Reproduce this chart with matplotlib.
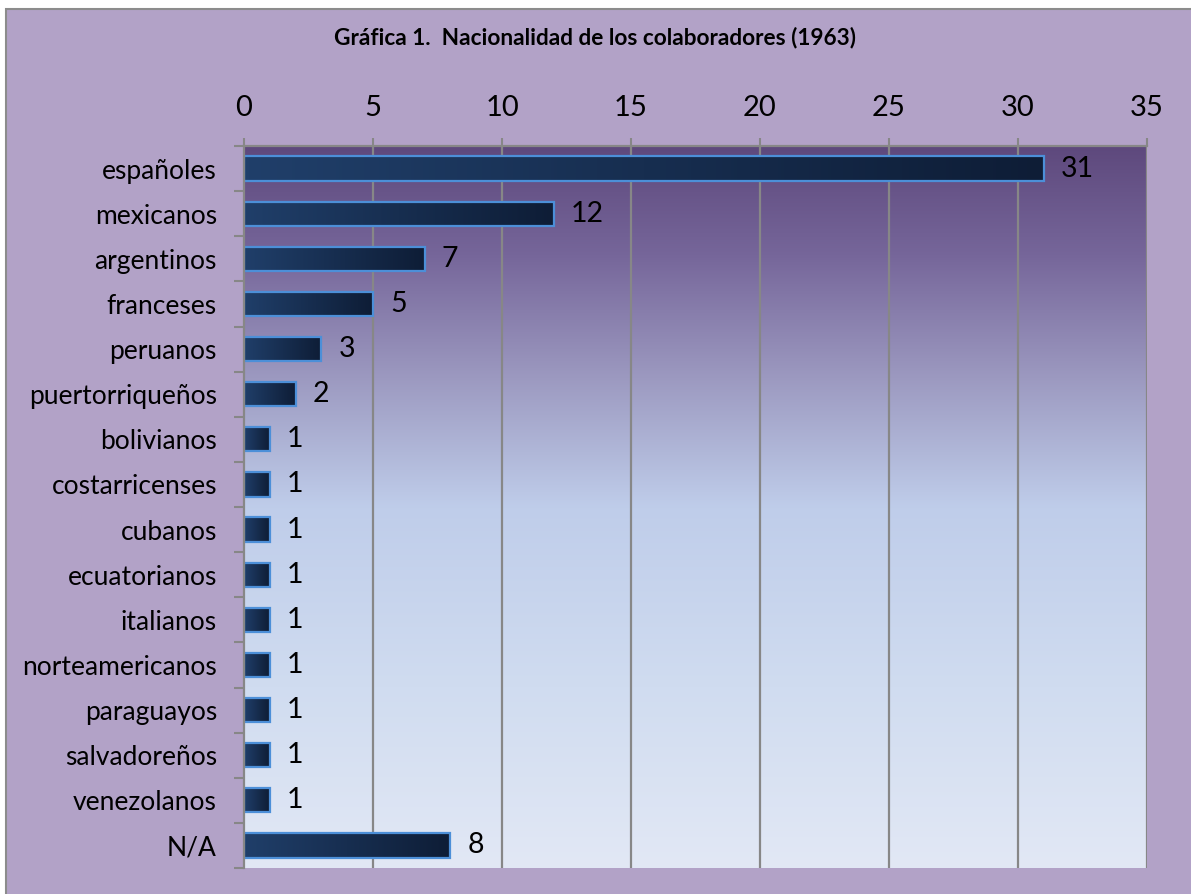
import matplotlib
matplotlib.use("Agg")
import matplotlib.pyplot as plt
import numpy as np
from matplotlib.colors import LinearSegmentedColormap
from matplotlib.patches import Rectangle

categories = ["españoles", "mexicanos", "argentinos", "franceses", "peruanos",
              "puertorriqueños", "bolivianos", "costarricenses", "cubanos",
              "ecuatorianos", "italianos", "norteamericanos", "paraguayos",
              "salvadoreños", "venezolanos", "N/A"]
values = [31, 12, 7, 5, 3, 2, 1, 1, 1, 1, 1, 1, 1, 1, 1, 8]
xticks = [0, 5, 10, 15, 20, 25, 30, 35]
title = "Gráfica 1.  Nacionalidad de los colaboradores (1963)"

plt.rcParams['font.family'] = ['Lato', 'DejaVu Sans']

W, H = 1191, 894
fig = plt.figure(figsize=(W / 100, H / 100), dpi=100)
fig.patch.set_facecolor("white")

# outer chart area background with gray border (left/top visible)
bg = Rectangle((6 / W, -0.1), 1.2, 1.1 - 9 / H, transform=fig.transFigure,
               facecolor="#B2A2C7", edgecolor="#8C8C8C", linewidth=1.5, zorder=-10)
fig.patches.append(bg)

ax = fig.add_axes([244 / W, 1 - 868 / H, (1147 - 244) / W, (868 - 146) / H])
ax.set_facecolor("none")

n = len(categories)
ypos = np.arange(n)
ax.set_xlim(0, 35)
ax.set_ylim(n - 0.5, -0.5)

# vertical background gradient
bg_cmap = LinearSegmentedColormap.from_list(
    "bg", [(0.0, "#5E497D"), (0.15, "#76669A"), (0.32, "#9C99C0"),
           (0.5, "#BFCDEA"), (0.75, "#D0DCF0"), (1.0, "#E2E8F5")])
grad = np.linspace(0, 1, 256).reshape(-1, 1)
ax.imshow(grad, cmap=bg_cmap, aspect="auto", extent=[0, 35, n - 0.5, -0.5],
          zorder=0, interpolation="bicubic")

# gridlines
for xt in xticks[1:]:
    ax.axvline(xt, color="#878787", lw=1.6, zorder=1)

# bars with horizontal gradient
bar_cmap = LinearSegmentedColormap.from_list("bar", ["#203F6A", "#0E1D36"])
hgrad = np.linspace(0, 1, 256).reshape(1, -1)
bh = 0.54
bars = ax.barh(ypos, values, height=bh, facecolor="none",
               edgecolor="#4C8FD8", linewidth=1.6, zorder=3)
for b, v, y in zip(bars, values, ypos):
    ax.imshow(hgrad, cmap=bar_cmap, aspect="auto",
              extent=[0, v, y + bh / 2, y - bh / 2], zorder=2,
              interpolation="bicubic")
    ax.text(v + 0.66, y, str(v), va="center", ha="left", fontsize=20.5,
            color="black", zorder=4)
ax.set_xlim(0, 35)
ax.set_ylim(n - 0.5, -0.5)

# axes styling
ax.xaxis.tick_top()
ax.set_xticks(xticks)
ax.set_xticklabels([str(t) for t in xticks], fontsize=21)
ax.tick_params(axis="x", direction="out", length=6, width=1.5, color="#878787",
               pad=12)
ax.set_yticks(ypos)
ax.set_yticklabels(categories, fontsize=19)
ax.tick_params(axis="y", which="major", length=0, pad=19.5)
ax.set_yticks(np.arange(-0.5, n, 1), minor=True)
ax.tick_params(axis="y", which="minor", direction="out", length=7, width=1.5,
               color="#878787")
for s in ["right", "bottom"]:
    ax.spines[s].set_visible(False)
for s in ["left", "top"]:
    ax.spines[s].set_color("#878787")
    ax.spines[s].set_linewidth(1.6)
    ax.spines[s].set_zorder(5)

fig.text(595 / W, 1 - 37 / H, title, ha="center", va="center",
         fontsize=16.3, fontweight="bold", color="black")

fig.savefig("out.png", dpi=100, facecolor=fig.get_facecolor())
